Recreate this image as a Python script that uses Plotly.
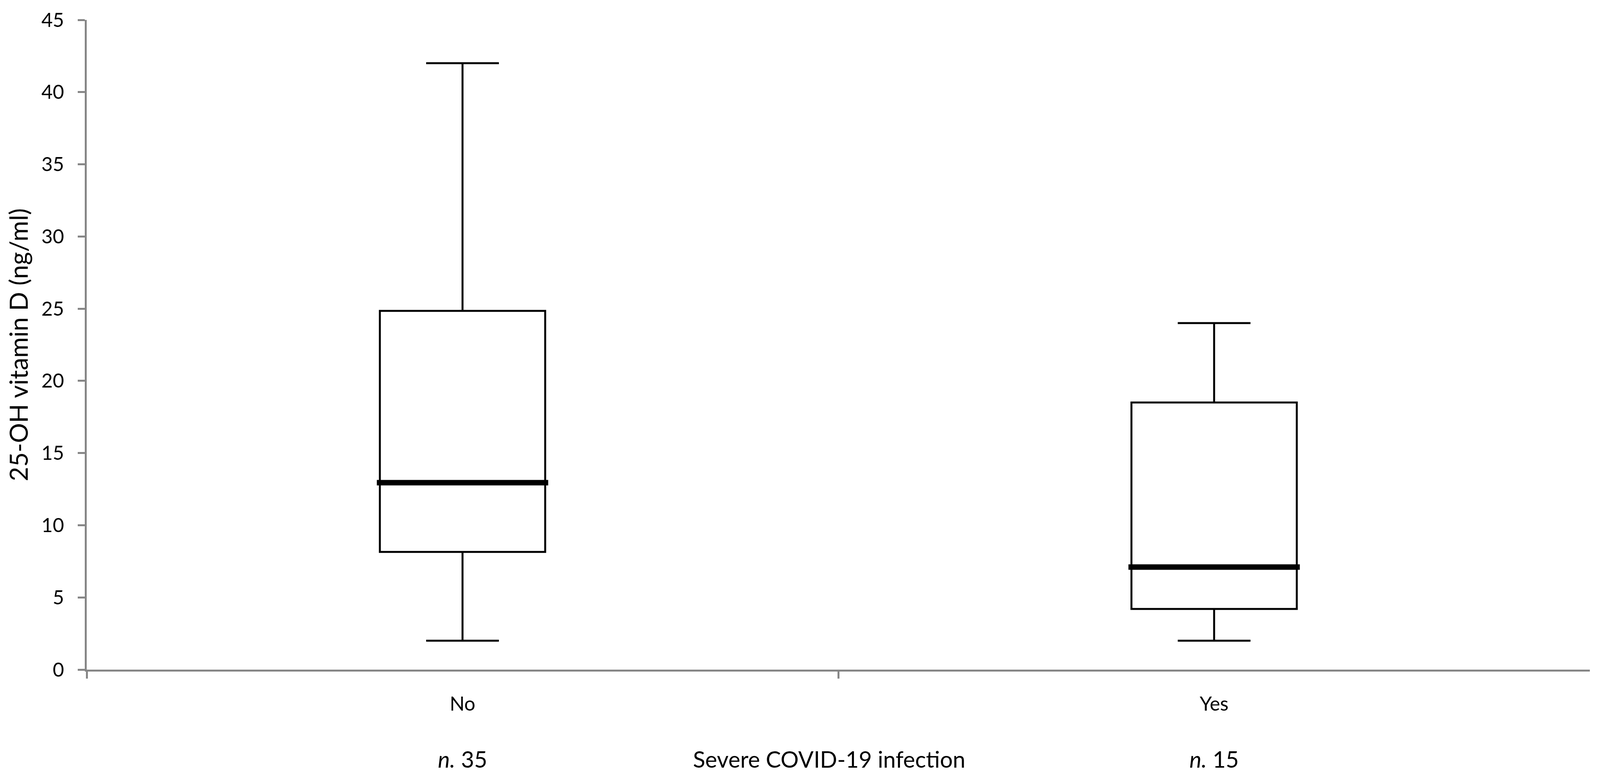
import plotly.graph_objects as go

# ---- data ----
categories = ["No", "Yes"]
group_n = [35, 15]
lower_whisker = [2.0, 2.0]
q1_values = [8.15, 4.2]
median_values = [12.95, 7.1]
q3_values = [24.85, 18.5]
upper_whisker = [42.0, 24.0]
y_ticks = [0, 5, 10, 15, 20, 25, 30, 35, 40, 45]

x_title = "Severe COVID-19 infection"
y_title = "25-OH vitamin D (ng/ml)"

BOX_W = 0.22
AXIS_GREY = "#868686"
FONT = "Lato"

fig = go.Figure()
fig.add_trace(go.Box(
    x=categories,
    q1=q1_values,
    median=median_values,
    q3=q3_values,
    lowerfence=lower_whisker,
    upperfence=upper_whisker,
    width=BOX_W,
    whiskerwidth=0.44,
    line=dict(color="black", width=5),
    fillcolor="white",
    boxpoints=False,
    showlegend=False,
    hoverinfo="skip",
))

# thick median bars, positioned from the data
for i, med in enumerate(median_values):
    fig.add_shape(type="line", xref="x", yref="y",
                  x0=i - BOX_W / 2 - 0.004, x1=i + BOX_W / 2 + 0.004,
                  y0=med, y1=med,
                  line=dict(color="black", width=14), layer="above")

# n labels under each category
for cat, n in zip(categories, group_n):
    fig.add_annotation(x=cat, xref="x", y=-0.1377, yref="paper",
                       text=f"<i>n.</i> {n}", showarrow=False,
                       xanchor="center", yanchor="middle",
                       font=dict(family=FONT, size=58, color="black"))

fig.add_annotation(x=0.494, xref="paper", y=-0.1377, yref="paper",
                   text=x_title, showarrow=False,
                   xanchor="center", yanchor="middle",
                   font=dict(family=FONT, size=58, color="black"))

fig.update_layout(
    width=4095, height=1986,
    margin=dict(l=214, r=33, t=43, b=280),
    paper_bgcolor="white", plot_bgcolor="white",
    font=dict(family=FONT, color="black"),
    showlegend=False,
)

fig.update_xaxes(
    type="category",
    range=[-0.5, 1.4999],
    tickson="boundaries",
    ticks="outside", ticklen=18, tickwidth=5, tickcolor=AXIS_GREY,
    showline=True, linecolor=AXIS_GREY, linewidth=5,
    showgrid=False, zeroline=False,
    tickfont=dict(family=FONT, size=50, color="black"),
    ticklabelstandoff=40,
)

fig.update_yaxes(
    range=[0, 45],
    tickvals=y_ticks,
    ticks="outside", ticklen=18, tickwidth=5, tickcolor=AXIS_GREY,
    showline=True, linecolor=AXIS_GREY, linewidth=5,
    showgrid=False, zeroline=False,
    tickfont=dict(family=FONT, size=50, color="black"),
    ticklabelstandoff=25,
    title=dict(text=y_title, font=dict(family=FONT, size=64, color="black"),
               standoff=36),
)

fig.write_html("out.html")
